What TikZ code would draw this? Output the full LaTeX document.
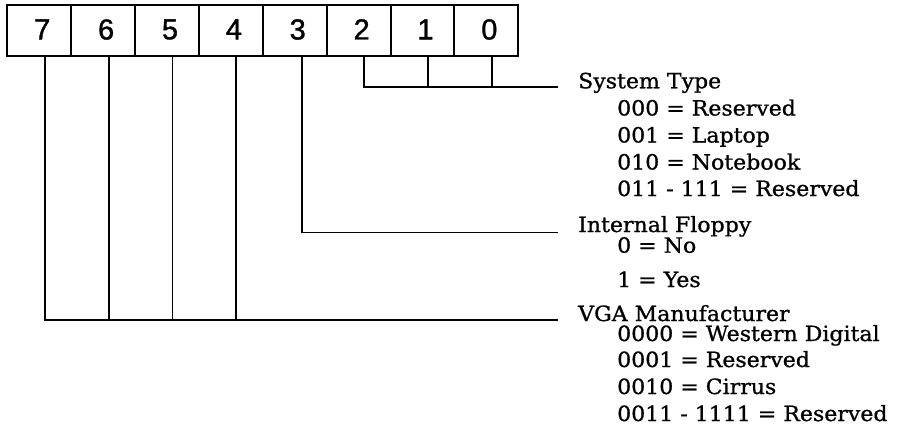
\documentclass[tikz,border=0pt]{standalone}
\usepackage{fontspec}
\setmainfont[FakeStretch=1.05,FakeBold=0.9]{DejaVu Serif}
\newfontfamily\digitfont[FakeBold=1.2]{Liberation Sans}
\begin{document}
\begin{tikzpicture}[x=1pt,y=-1pt,
  cell/.style={draw,line width=2pt,minimum width=63.875pt,minimum height=51.3pt,inner sep=0pt,
    font=\digitfont\fontsize{29}{29}\selectfont},
  wire/.style={line width=1.8pt},
  head/.style={anchor=base west,inner sep=0pt,font=\fontsize{21}{24}\selectfont},
  item/.style={anchor=base west,inner sep=0pt,font=\fontsize{21}{24}\selectfont}]
\useasboundingbox (0,0) rectangle (901,429);
% bit cells
\foreach \b [count=\i from 0] in {7,6,5,4,3,2,1,0}{
  \node[cell] (b\b) at ({7.3+63.875*(\i+0.5)},30.35) {\raisebox{2pt}{\hspace*{6pt}\b}};
}
% end points of the leader lines
\coordinate (sysend) at (558.3,86.7);
\coordinate (flpend) at (558.3,232.5);
\coordinate (vgaend) at (558.3,320.3);
% System Type: bits 2-0
\draw[wire] ([xshift=5.5pt]b2.south) |- (sysend);
\draw[wire] ([xshift=5.5pt]b1.south) -- ([xshift=5.5pt]b1.south |- sysend);
\draw[wire] ([xshift=5.5pt]b0.south) -- ([xshift=5.5pt]b0.south |- sysend);
% Internal Floppy: bit 3
\draw[wire] ([xshift=7pt]b3.south) |- (flpend);
% VGA Manufacturer: bits 7-4
\draw[wire] ([xshift=5.5pt]b7.south) |- (vgaend);
\draw[wire] ([xshift=5.5pt]b6.south) -- ([xshift=5.5pt]b6.south |- vgaend);
\draw[wire] ([xshift=5.5pt]b5.south) -- ([xshift=5.5pt]b5.south |- vgaend);
\draw[wire] ([xshift=5.5pt]b4.south) -- ([xshift=5.5pt]b4.south |- vgaend);
% texts
\node[head] (st) at (578,88.3) {System Type};
\node[item] (st0) at (617,115.5) {000 = Reserved};
\node[item] (st1) at (617,142.5) {001 = Laptop};
\node[item] (st2) at (617,169.5) {010 = Notebook};
\node[item] (st3) at (617,196) {011 - 111 = Reserved};
\node[head] (fl) at (578,232) {Internal Floppy};
\node[item] (fl0) at (617,252.7) {0 = No};
\node[item] (fl1) at (617,287) {1 = Yes};
\node[head] (vg) at (578,321) {VGA Manufacturer};
\node[item] (vg0) at (617,341) {0000 = Western Digital};
\node[item] (vg1) at (617,367) {0001 = Reserved};
\node[item] (vg2) at (617,394) {0010 = Cirrus};
\node[item] (vg3) at (617,421) {0011 - 1111 = Reserved};
\end{tikzpicture}
\end{document}
